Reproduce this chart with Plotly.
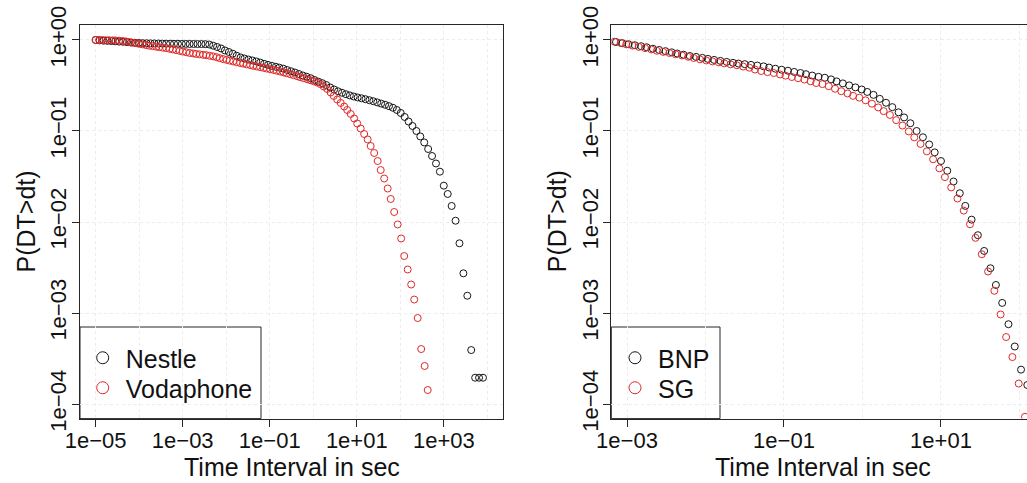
import plotly.graph_objects as go

# ---------------- data (log10 values) ----------------
# Left panel: Nestle (black) and Vodaphone (red)
nestle_log_dt = [-5.00, -4.91, -4.82, -4.73, -4.64, -4.55, -4.46, -4.37, -4.28, -4.19,
                 -4.10, -4.01, -3.92, -3.83, -3.74, -3.65, -3.56, -3.47, -3.38, -3.29,
                 -3.20, -3.11, -3.02, -2.93, -2.84, -2.75, -2.66, -2.57, -2.48, -2.39,
                 -2.30, -2.21, -2.12, -2.03, -1.94, -1.85, -1.76, -1.67, -1.58, -1.49,
                 -1.40, -1.31, -1.22, -1.13, -1.04, -0.95, -0.86, -0.78, -0.69, -0.60,
                 -0.51, -0.42, -0.33, -0.24, -0.15, -0.06, 0.03, 0.12, 0.21, 0.30,
                 0.39, 0.48, 0.57, 0.66, 0.75, 0.84, 0.93, 1.02, 1.11, 1.20,
                 1.29, 1.38, 1.47, 1.56, 1.65, 1.74, 1.83, 1.92, 2.01, 2.10,
                 2.19, 2.28, 2.37, 2.46, 2.55, 2.64, 2.73, 2.82, 2.91, 3.00,
                 3.09, 3.18, 3.27, 3.36, 3.45, 3.54, 3.63, 3.72, 3.81, 3.90]
nestle_log_p = [0.000, -0.005, -0.008, -0.010, -0.012, -0.015, -0.018, -0.020, -0.024, -0.028,
                -0.031, -0.033, -0.035, -0.036, -0.037, -0.038, -0.039, -0.040, -0.041, -0.041,
                -0.042, -0.042, -0.043, -0.043, -0.044, -0.044, -0.045, -0.045, -0.046, -0.050,
                -0.063, -0.077, -0.093, -0.115, -0.132, -0.151, -0.173, -0.192, -0.204, -0.215,
                -0.225, -0.236, -0.248, -0.262, -0.274, -0.285, -0.295, -0.304, -0.315, -0.330,
                -0.344, -0.358, -0.374, -0.390, -0.404, -0.420, -0.440, -0.458, -0.475, -0.495,
                -0.522, -0.544, -0.564, -0.580, -0.596, -0.609, -0.621, -0.632, -0.641, -0.651,
                -0.662, -0.673, -0.686, -0.699, -0.712, -0.727, -0.745, -0.769, -0.802, -0.846,
                -0.896, -0.945, -1.000, -1.060, -1.126, -1.198, -1.275, -1.357, -1.447, -1.601,
                -1.692, -1.824, -1.986, -2.234, -2.564, -2.810, -3.407, -3.711, -3.711, -3.711]

vodaphone_log_dt = [-5.00, -4.92, -4.85, -4.77, -4.69, -4.61, -4.54, -4.46, -4.38, -4.31,
                    -4.23, -4.15, -4.07, -4.00, -3.92, -3.84, -3.77, -3.69, -3.61, -3.54,
                    -3.46, -3.38, -3.30, -3.23, -3.15, -3.07, -3.00, -2.92, -2.84, -2.76,
                    -2.69, -2.61, -2.53, -2.46, -2.38, -2.30, -2.22, -2.15, -2.07, -1.99,
                    -1.92, -1.84, -1.76, -1.68, -1.61, -1.53, -1.45, -1.38, -1.30, -1.22,
                    -1.14, -1.07, -0.99, -0.91, -0.84, -0.76, -0.68, -0.61, -0.53, -0.45,
                    -0.37, -0.30, -0.22, -0.14, -0.07, 0.01, 0.09, 0.17, 0.24, 0.32,
                    0.40, 0.47, 0.55, 0.63, 0.71, 0.78, 0.86, 0.94, 1.01, 1.09,
                    1.17, 1.25, 1.32, 1.40, 1.48, 1.55, 1.63, 1.71, 1.78, 1.86,
                    1.94, 2.02, 2.09, 2.17, 2.25, 2.32, 2.40, 2.48, 2.56, 2.63]
vodaphone_log_p = [0.000, 0.000, -0.001, -0.002, -0.003, -0.004, -0.005, -0.008, -0.011, -0.016,
                   -0.023, -0.030, -0.036, -0.043, -0.049, -0.056, -0.063, -0.068, -0.074, -0.079,
                   -0.085, -0.090, -0.097, -0.104, -0.112, -0.120, -0.127, -0.135, -0.143, -0.148,
                   -0.154, -0.158, -0.163, -0.167, -0.174, -0.180, -0.189, -0.200, -0.210, -0.219,
                   -0.227, -0.236, -0.245, -0.253, -0.260, -0.268, -0.276, -0.284, -0.291, -0.299,
                   -0.307, -0.314, -0.322, -0.330, -0.338, -0.347, -0.356, -0.366, -0.376, -0.387,
                   -0.398, -0.409, -0.420, -0.431, -0.442, -0.454, -0.468, -0.486, -0.511, -0.538,
                   -0.577, -0.615, -0.654, -0.692, -0.731, -0.769, -0.813, -0.863, -0.918, -0.973,
                   -1.033, -1.093, -1.165, -1.242, -1.330, -1.429, -1.522, -1.632, -1.747, -1.890,
                   -2.027, -2.181, -2.374, -2.522, -2.687, -2.852, -3.055, -3.396, -3.582, -3.846]

# Right panel: BNP (black) and SG (red)
bnp_log_dt = [-3.14, -3.06, -2.98, -2.90, -2.82, -2.75, -2.67, -2.59, -2.51, -2.43,
              -2.36, -2.28, -2.20, -2.12, -2.04, -1.97, -1.89, -1.81, -1.73, -1.65,
              -1.58, -1.50, -1.42, -1.34, -1.26, -1.19, -1.11, -1.03, -0.95, -0.87,
              -0.79, -0.72, -0.64, -0.56, -0.48, -0.40, -0.33, -0.25, -0.17, -0.09,
              -0.01, 0.06, 0.14, 0.22, 0.30, 0.38, 0.46, 0.53, 0.61, 0.69,
              0.77, 0.85, 0.92, 1.00, 1.08, 1.16, 1.24, 1.31, 1.39, 1.47,
              1.55, 1.63, 1.70, 1.78, 1.86, 1.94, 2.02, 2.10]
bnp_log_p = [-0.022, -0.035, -0.047, -0.058, -0.069, -0.080, -0.096, -0.110, -0.123, -0.136,
             -0.149, -0.162, -0.176, -0.186, -0.197, -0.208, -0.219, -0.230, -0.241, -0.251,
             -0.259, -0.266, -0.274, -0.281, -0.290, -0.303, -0.316, -0.327, -0.338, -0.351,
             -0.363, -0.376, -0.391, -0.405, -0.415, -0.433, -0.455, -0.477, -0.499, -0.521,
             -0.544, -0.571, -0.603, -0.647, -0.690, -0.738, -0.795, -0.851, -0.915, -1.000,
             -1.069, -1.148, -1.235, -1.330, -1.437, -1.555, -1.684, -1.823, -1.974, -2.145,
             -2.318, -2.508, -2.692, -2.889, -3.123, -3.368, -3.622, -3.791]

sg_log_dt = [-3.16, -3.08, -3.01, -2.93, -2.85, -2.77, -2.69, -2.62, -2.54, -2.46,
             -2.38, -2.30, -2.22, -2.15, -2.07, -1.99, -1.91, -1.83, -1.76, -1.68,
             -1.60, -1.52, -1.44, -1.37, -1.29, -1.21, -1.13, -1.05, -0.98, -0.90,
             -0.82, -0.74, -0.66, -0.59, -0.51, -0.43, -0.35, -0.27, -0.19, -0.12,
             -0.04, 0.04, 0.12, 0.20, 0.27, 0.35, 0.43, 0.51, 0.59, 0.66,
             0.74, 0.82, 0.90, 0.98, 1.05, 1.13, 1.21, 1.29, 1.37, 1.44,
             1.52, 1.60, 1.68, 1.76, 1.83, 1.91, 1.99, 2.07]
sg_log_p = [-0.019, -0.033, -0.048, -0.062, -0.076, -0.090, -0.104, -0.119, -0.131, -0.143,
            -0.157, -0.170, -0.185, -0.198, -0.213, -0.225, -0.236, -0.246, -0.257, -0.268,
            -0.278, -0.292, -0.305, -0.325, -0.341, -0.353, -0.363, -0.379, -0.392, -0.407,
            -0.420, -0.435, -0.454, -0.473, -0.485, -0.508, -0.536, -0.563, -0.588, -0.614,
            -0.634, -0.663, -0.700, -0.741, -0.782, -0.824, -0.881, -0.940, -1.005, -1.070,
            -1.142, -1.224, -1.311, -1.411, -1.507, -1.620, -1.742, -1.875, -2.025, -2.174,
            -2.354, -2.544, -2.756, -3.016, -3.264, -3.484, -3.775, -4.140]

# Tick labels and grid positions
left_x_tickvals = [1e-5, 1e-3, 1e-1, 1e1, 1e3]
left_x_ticktext = ["1e\u221205", "1e\u221203", "1e\u221201", "1e+01", "1e+03"]
right_x_tickvals = [1e-3, 1e-1, 1e1]
right_x_ticktext = ["1e\u221203", "1e\u221201", "1e+01"]
y_tickvals = [1, 1e-1, 1e-2, 1e-3, 1e-4]
y_ticktext = ["1e+00", "1e\u221201", "1e\u221202", "1e\u221203", "1e\u221204"]
left_x_grid = [1e-5, 1e-4, 1e-3, 1e-2, 1e-1, 1, 1e1, 1e2, 1e3, 1e4]
right_x_grid = [1e-3, 1e-2, 1e-1, 1, 1e1, 1e2]

series_names = ["Nestle", "Vodaphone", "BNP", "SG"]

# ---------------- figure ----------------
W, H = 1027, 483
FONT = "Liberation Sans, Arial, Helvetica, sans-serif"
BLACK = "#161616"
RED = "#e02828"
AXC = "#262626"
GRID = "#ececec"


def fx(p):
    return p / W


def fy(p):
    return 1 - p / H


fig = go.Figure()


def add_series(lx, ly, color, xa, ya):
    fig.add_trace(go.Scatter(
        x=[10 ** v for v in lx], y=[10 ** v for v in ly], mode="markers",
        marker=dict(symbol="circle-open", size=7, color=color,
                    line=dict(width=1, color=color)),
        xaxis=xa, yaxis=ya, showlegend=False, hoverinfo="skip"))


add_series(nestle_log_dt, nestle_log_p, BLACK, "x", "y")
add_series(vodaphone_log_dt, vodaphone_log_p, RED, "x", "y")
add_series(bnp_log_dt, bnp_log_p, BLACK, "x2", "y2")
add_series(sg_log_dt, sg_log_p, RED, "x2", "y2")

# legend entries (one legend per entry for exact placement)
for name, color, xa, ya, leg in [(series_names[0], BLACK, "x", "y", "legend"),
                                 (series_names[1], RED, "x", "y", "legend2"),
                                 (series_names[2], BLACK, "x2", "y2", "legend3"),
                                 (series_names[3], RED, "x2", "y2", "legend4")]:
    fig.add_trace(go.Scatter(
        x=[None], y=[None], mode="markers", name=name, legend=leg,
        marker=dict(symbol="circle-open", size=12, color=color,
                    line=dict(width=1, color=color)),
        xaxis=xa, yaxis=ya, showlegend=True, hoverinfo="skip"))

leg_common = dict(xanchor="left", yanchor="middle", bgcolor="rgba(0,0,0,0)",
                  borderwidth=0, itemwidth=36,
                  font=dict(size=25, family=FONT, color="#111111"))

axis_common = dict(type="log", showline=True, linecolor=AXC, linewidth=1,
                   ticks="outside", ticklen=7, tickcolor=AXC, tickwidth=1,
                   showgrid=True, gridcolor=GRID, griddash="dot", gridwidth=1,
                   zeroline=False, fixedrange=True,
                   tickfont=dict(size=22, family=FONT, color="#111111"))

y_dom = [fy(418.6), fy(25.4)]
minor_common = dict(tickmode="array", ticks="", showgrid=True,
                    gridcolor=GRID, griddash="dot", gridwidth=1)

fig.update_layout(
    width=W, height=H,
    margin=dict(l=0, r=0, t=0, b=0, autoexpand=False),
    paper_bgcolor="white", plot_bgcolor="white",
    font=dict(family=FONT, color="#111111"),
    xaxis=dict(axis_common, domain=[fx(80), fx(503)], range=[-5.36, 4.36], anchor="y",
               mirror=True, tickmode="array", tickvals=left_x_tickvals,
               ticktext=left_x_ticktext, ticklabelstandoff=-5,
               minor=dict(minor_common, tickvals=left_x_grid)),
    yaxis=dict(axis_common, domain=y_dom, range=[-4.16, 0.16], anchor="x", mirror=True,
               tickmode="array", tickvals=y_tickvals, ticktext=y_ticktext, tickangle=-90,
               ticklabelstandoff=-3),
    xaxis2=dict(axis_common, domain=[fx(611.3), 1.0], range=[-3.2, 2.096], anchor="y2",
                mirror=True, tickmode="array", tickvals=right_x_tickvals,
                ticktext=right_x_ticktext, ticklabelstandoff=-5,
                minor=dict(minor_common, tickvals=right_x_grid)),
    yaxis2=dict(axis_common, domain=y_dom, range=[-4.16, 0.16], anchor="x2", mirror=False,
                tickmode="array", tickvals=y_tickvals, ticktext=y_ticktext, tickangle=-90,
                ticklabelstandoff=-3),
    legend=dict(leg_common, x=fx(79.7), y=fy(358)),
    legend2=dict(leg_common, x=fx(79.7), y=fy(388)),
    legend3=dict(leg_common, x=fx(612), y=fy(358)),
    legend4=dict(leg_common, x=fx(612), y=fy(388)),
    shapes=[
        dict(type="rect", xref="paper", yref="paper", x0=fx(80), x1=fx(261),
             y0=fy(418.6), y1=fy(327), line=dict(color=AXC, width=1),
             fillcolor="white", layer="between"),
        dict(type="rect", xref="paper", yref="paper", x0=fx(611.3), x1=fx(720),
             y0=fy(418.6), y1=fy(327), line=dict(color=AXC, width=1),
             fillcolor="white", layer="between"),
    ],
    annotations=[
        dict(text="Time Interval in sec", xref="paper", yref="paper", x=fx(291.5), y=fy(467),
             xanchor="center", yanchor="middle", showarrow=False,
             font=dict(size=25, family=FONT, color="#111111")),
        dict(text="Time Interval in sec", xref="paper", yref="paper", x=fx(823), y=fy(467),
             xanchor="center", yanchor="middle", showarrow=False,
             font=dict(size=25, family=FONT, color="#111111")),
        dict(text="P(DT>dt)", xref="paper", yref="paper", x=fx(25), y=fy(221.5),
             xanchor="center", yanchor="middle", showarrow=False, textangle=-90,
             font=dict(size=25, family=FONT, color="#111111")),
        dict(text="P(DT>dt)", xref="paper", yref="paper", x=fx(556.7), y=fy(221.5),
             xanchor="center", yanchor="middle", showarrow=False, textangle=-90,
             font=dict(size=25, family=FONT, color="#111111")),
    ],
)

fig.write_html(
    "out.html",
    config={"displayModeBar": False, "staticPlot": True},
    post_script="document.body.style.margin='0';document.body.style.overflow='hidden';",
)
